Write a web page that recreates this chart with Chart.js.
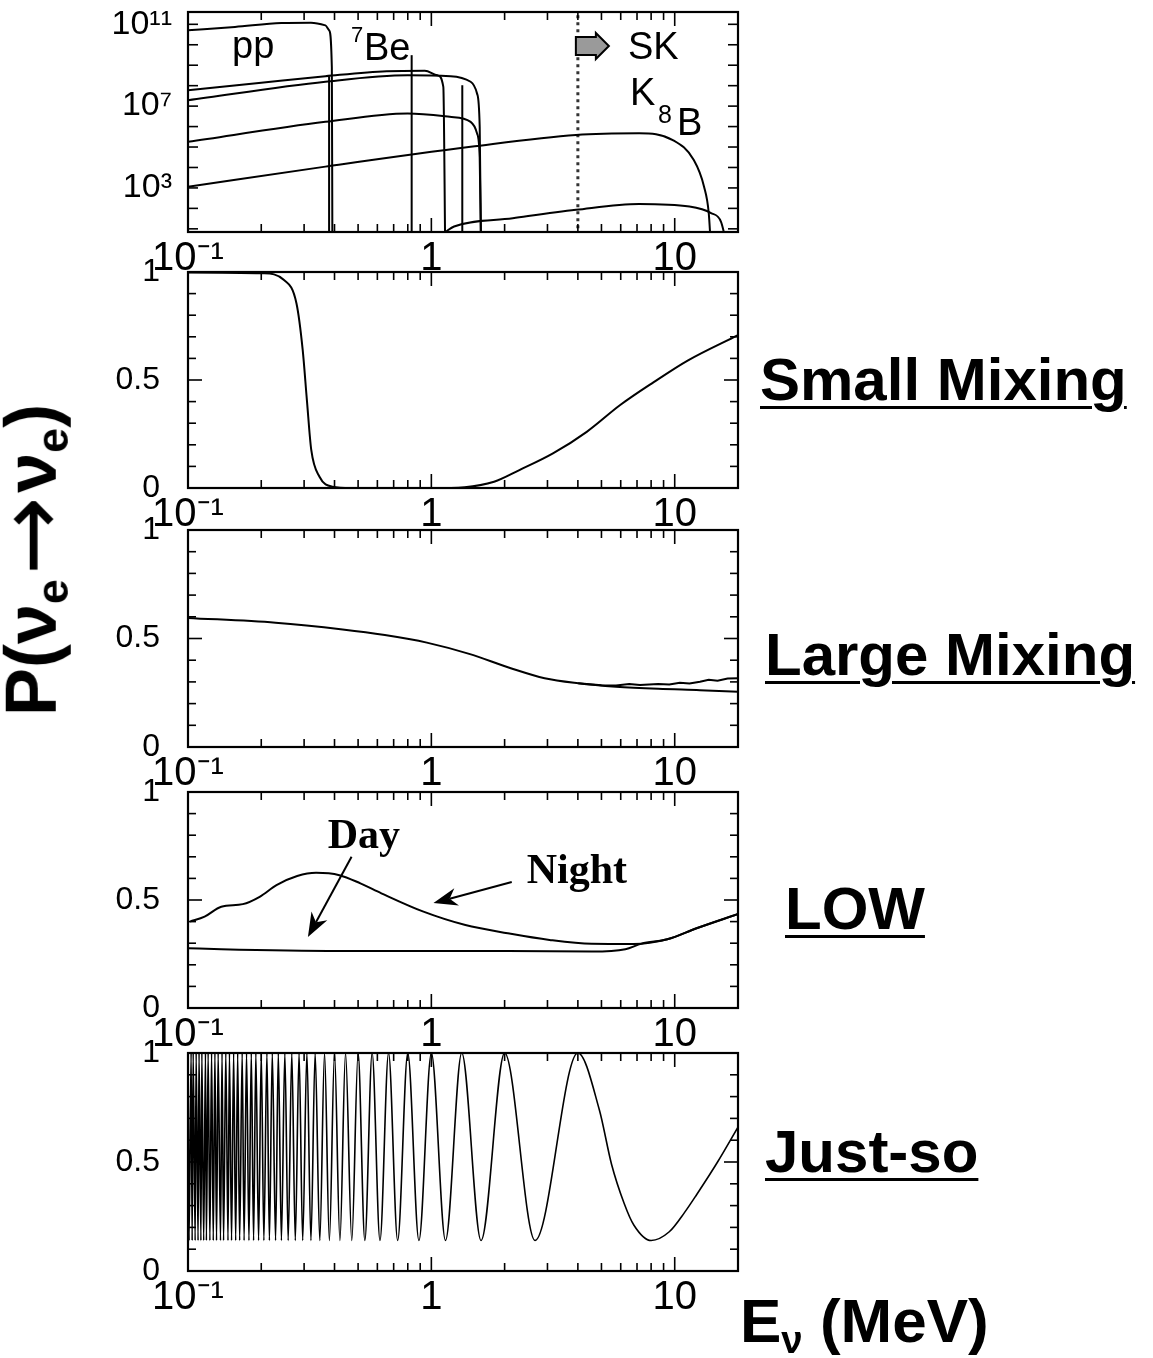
<!DOCTYPE html>
<html>
<head>
<meta charset="utf-8">
<script src="https://cdn.jsdelivr.net/npm/chart.js@4.4.1/dist/chart.umd.min.js"></script>
<style>
  html, body { margin: 0; padding: 0; background: #fff; }
  #page { position: relative; width: 1153px; height: 1358px; overflow: hidden; background: #fff;
          font-family: "Liberation Sans", Arial, sans-serif; color: #000; }
  canvas { position: absolute; }
  .tag { position: absolute; font-weight: bold; font-size: 60px; line-height: 60px; white-space: nowrap;
         text-decoration: underline; text-decoration-thickness: 3px; text-underline-offset: 6px; }
  .lbl { position: absolute; font-size: 38px; line-height: 38px; white-space: nowrap; }
  #ytitle { position: absolute; left: 42px; top: 560px; transform: translate(-50%, -50%) rotate(-90deg);
            font-weight: bold; font-size: 72px; line-height: 72px; white-space: nowrap; }
  #ytitle .arr { font-family: "DejaVu Sans", sans-serif; font-weight: normal; font-size: 1.3em; margin: 0 4px; vertical-align: -0.08em; }
  #ytitle sub, #xtitle sub { font-size: 0.62em; vertical-align: -0.28em; }
  #xtitle { position: absolute; left: 740px; top: 1290px; font-weight: bold; font-size: 62px; line-height: 62px; white-space: nowrap; }
</style>
</head>
<body>
<div id="page">
  <canvas id="flux" width="720" height="10"></canvas>
  <canvas id="sma" width="720" height="10"></canvas>
  <canvas id="lma" width="720" height="10"></canvas>
  <canvas id="low" width="720" height="10"></canvas>
  <canvas id="vac" width="720" height="10"></canvas>

  <div class="lbl" style="left:232px;top:26px">pp</div>
  <div class="lbl" style="left:351px;top:24px;font-size:22px;line-height:22px">7</div>
  <div class="lbl" style="left:364px;top:28px">Be</div>
  <div class="lbl" style="left:628px;top:27px">SK</div>
  <div class="lbl" style="left:630px;top:73px">K</div>
  <div class="lbl" style="left:658px;top:102px;font-size:25px;line-height:25px">8</div>
  <div class="lbl" style="left:677px;top:103px">B</div>

  <div class="tag" style="left:760px;top:350px">Small Mixing</div>
  <div class="tag" style="left:765px;top:625px">Large Mixing</div>
  <div class="tag" style="left:785px;top:879px">LOW</div>
  <div class="tag" style="left:765px;top:1122px">Just-so</div>

  <div id="ytitle">P(ν<sub>e</sub><span class="arr">→</span>ν<sub>e</sub>)</div>
  <div id="xtitle">E<sub>ν</sub> (MeV)</div>
</div>

<script>
// ---- axes ----
const xMin = 0.1, xMax = 18.2;
const xTickValues = [0.1, 1, 10];
const xTickLabels = ["10⁻¹", "1", "10"];

const fluxMin = 7, fluxMax = 4e11;
const fluxTickValues = [1e3, 1e7, 1e11];
const fluxTickLabels = ["10³", "10⁷", "10¹¹"];

const probTickValues = [0, 0.5, 1];
const probTickLabels = ["0", "0.5", "1"];

// ---- solar neutrino spectra (top panel) ----
const ppE = [0.1, 0.156, 0.242, 0.32, 0.367, 0.38, 0.39, 0.392];
const ppFlux = [5.1e10, 7.4e10, 1.15e11, 1.2e11, 8.9e10, 5.1e10, 7.9e8, 1];

const n13E = [0.1, 0.2, 0.367, 0.655, 0.94, 1.06, 1.12, 1.14];
const n13Flux = [6.0e7, 1.4e8, 2.9e8, 5.1e8, 5.4e8, 3.2e8, 8.7e7, 1];

const o15E = [0.1, 0.367, 0.8, 1.2, 1.45, 1.54, 1.58, 1.6];
const o15Flux = [1.95e7, 1.55e8, 3.2e8, 2.9e8, 1.55e8, 4.2e7, 9.8e5, 1];

const f17E = [0.1, 0.367, 0.8, 1.19, 1.45, 1.54, 1.58, 1.6];
const f17Flux = [1.8e5, 1.7e6, 4.4e6, 3.0e6, 1.7e6, 4.7e5, 3e4, 1];

const b8E = [0.1, 0.367, 1.45, 3.93, 7.14, 9.82, 11.98, 13.2, 13.8, 14.1];
const b8Flux = [1150, 1.1e4, 1.02e5, 3.9e5, 4.7e5, 2.2e5, 2.3e4, 1150, 59, 1];

const hepE = [1.14, 1.24, 2.16, 3.93, 7.14, 11.5, 14.1, 15.5, 16.5];
const hepFlux = [7, 13, 33, 85, 166, 123, 59, 22, 1];

// line sources: 7Be (two lines) and pep
const lineE = [0.38, 0.83, 1.34];
const lineFlux = [2.9e8, 3.1e9, 1.05e8];

const skThreshold = 4;

// ---- survival probabilities ----
const smaE = [0.1, 0.203, 0.248, 0.279, 0.296, 0.308, 0.321, 0.347, 0.392, 0.468, 1.0, 1.37, 1.81, 2.3, 3.16, 4.35, 5.97, 8.2, 11.3, 18.2];
const smaP = [0.998, 0.994, 0.963, 0.855, 0.639, 0.407, 0.176, 0.052, 0.006, 0.0, 0.0, 0.004, 0.029, 0.083, 0.16, 0.26, 0.384, 0.49, 0.59, 0.708];

const lmaE = [0.1, 0.229, 0.432, 0.644, 0.958, 1.43, 2.12, 2.92, 4.01, 5.74, 8.55, 12.7, 18.2];
const lmaP = [0.595, 0.573, 0.542, 0.516, 0.481, 0.429, 0.363, 0.317, 0.294, 0.278, 0.268, 0.262, 0.255];
const lmaNightE = [4.01, 5.0, 5.74, 6.5, 7.2, 8.55, 9.5, 10.5, 11.5, 12.7, 13.8, 15.0, 16.5, 18.2];
const lmaNightP = [0.294, 0.285, 0.283, 0.29, 0.286, 0.29, 0.288, 0.296, 0.293, 0.301, 0.31, 0.305, 0.316, 0.317];

const lowNightE = [0.102, 0.117, 0.137, 0.168, 0.197, 0.231, 0.281, 0.336, 0.419, 0.511, 0.623, 0.928, 1.38, 2.06, 3.06, 4.56, 6.78, 9.33, 12.3, 18.2];
const lowNightP = [0.40, 0.423, 0.469, 0.481, 0.515, 0.569, 0.611, 0.626, 0.615, 0.577, 0.531, 0.446, 0.384, 0.346, 0.315, 0.297, 0.296, 0.318, 0.369, 0.435];
const lowDayE = [0.1, 0.137, 0.419, 2.06, 4.56, 6.27, 7.3, 9.33, 12.3, 18.2];
const lowDayP = [0.277, 0.272, 0.264, 0.264, 0.261, 0.272, 0.298, 0.318, 0.369, 0.435];

const jsPeakE = [4, 2, 1.333, 1, 0.8, 0.667, 0.571, 0.5, 0.444, 0.4, 0.364, 0.333, 0.308, 0.286, 0.267, 0.25, 0.235, 0.222, 0.211, 0.2,
  0.19, 0.182, 0.174, 0.167, 0.16, 0.154, 0.148, 0.143, 0.138, 0.133, 0.129, 0.125, 0.121, 0.118, 0.114, 0.111, 0.108, 0.105, 0.103, 0.1];
const jsTroughE = [8, 2.667, 1.6, 1.143, 0.889, 0.727, 0.615, 0.533, 0.471, 0.421, 0.381, 0.348, 0.32, 0.296, 0.276, 0.258, 0.242, 0.229, 0.216, 0.205,
  0.195, 0.186, 0.178, 0.17, 0.163, 0.157, 0.151, 0.146, 0.14, 0.136, 0.131, 0.127, 0.123, 0.119, 0.116, 0.113, 0.11, 0.107, 0.104, 0.101];
const jsPeakP = 1.0;
const jsTroughP = 0.14;
// extra readings on the last, widest swing
const jsSlopeE = [4.9, 5.5, 6.2, 6.8, 9.5, 11.0, 12.3, 15.0, 18.2];
const jsSlopeP = [0.74, 0.49, 0.31, 0.21, 0.18, 0.27, 0.35, 0.5, 0.66];

// ---- helpers ----
const pts = (xs, ys) => xs.map((x, i) => ({ x: x, y: ys[i] }));

function curve(data, extra) {
  return Object.assign({
    data: data, borderColor: "#000", borderWidth: 2, pointRadius: 0,
    fill: false, cubicInterpolationMode: "monotone"
  }, extra || {});
}

function drawArrow(ctx, x1, y1, x2, y2) {
  const a = Math.atan2(y2 - y1, x2 - x1);
  const head = 24, wid = 9;
  const c = Math.cos(a), s = Math.sin(a);
  ctx.beginPath();
  ctx.moveTo(x1, y1);
  ctx.lineTo(x2 - head * 0.7 * c, y2 - head * 0.7 * s);
  ctx.stroke();
  ctx.beginPath();
  ctx.moveTo(x2, y2);
  ctx.lineTo(x2 - head * c + wid * s, y2 - head * s - wid * c);
  ctx.lineTo(x2 - head * 0.7 * c, y2 - head * 0.7 * s);
  ctx.lineTo(x2 - head * c - wid * s, y2 - head * s + wid * c);
  ctx.closePath();
  ctx.fill();
}

// frame with inward ticks on all four sides
const framePlugin = {
  id: "frame",
  afterDatasetsDraw(chart, args, opts) {
    const { ctx, chartArea: a } = chart;
    const x = chart.scales.x, y = chart.scales.y;
    ctx.save();
    ctx.strokeStyle = "#000";
    ctx.lineWidth = 1.6;
    const seg = (x1, y1, x2, y2) => { ctx.beginPath(); ctx.moveTo(x1, y1); ctx.lineTo(x2, y2); ctx.stroke(); };
    for (const d of [-1, 0, 1]) {
      for (let k = 1; k <= 9; k++) {
        const v = k * Math.pow(10, d);
        if (v < xMin || v > xMax) continue;
        const px = x.getPixelForValue(v);
        const len = k === 1 ? 14 : 8;
        seg(px, a.bottom, px, a.bottom - len);
        seg(px, a.top, px, a.top + len);
      }
    }
    (opts.yTicks || []).forEach((v, i) => {
      const py = y.getPixelForValue(v);
      const len = opts.yLens[i];
      seg(a.left, py, a.left + len, py);
      seg(a.right, py, a.right - len, py);
    });
    ctx.lineWidth = 2.2;
    ctx.strokeRect(a.left, a.top, a.right - a.left, a.bottom - a.top);
    ctx.restore();
  }
};

// annotations: arrows, serif labels, SK threshold box
const notesPlugin = {
  id: "notes",
  afterDatasetsDraw(chart, args, opts) {
    const { ctx, chartArea: a } = chart;
    const x = chart.scales.x, y = chart.scales.y;
    ctx.save();
    ctx.fillStyle = "#000";
    ctx.strokeStyle = "#000";
    ctx.lineWidth = 2;
    (opts.texts || []).forEach(t => {
      ctx.font = "bold 42px 'Liberation Serif', 'Times New Roman', serif";
      ctx.textAlign = "center";
      ctx.textBaseline = "alphabetic";
      ctx.fillText(t.text, x.getPixelForValue(t.e), y.getPixelForValue(t.p));
    });
    (opts.arrows || []).forEach(r => {
      drawArrow(ctx, x.getPixelForValue(r.from[0]), y.getPixelForValue(r.from[1]),
        x.getPixelForValue(r.to[0]), y.getPixelForValue(r.to[1]));
    });
    if (opts.skBox) {
      const px = x.getPixelForValue(opts.skBox);
      const top = a.top + 21, h = 26, bx = px - 2;
      ctx.beginPath();
      ctx.moveTo(bx, top + 4);
      ctx.lineTo(bx + 20, top + 4);
      ctx.lineTo(bx + 20, top);
      ctx.lineTo(bx + 33, top + h / 2);
      ctx.lineTo(bx + 20, top + h);
      ctx.lineTo(bx + 20, top + h - 4);
      ctx.lineTo(bx, top + h - 4);
      ctx.closePath();
      ctx.fillStyle = "#9a9a9a";
      ctx.fill();
      ctx.stroke();
    }
    ctx.restore();
  }
};

Chart.register(framePlugin, notesPlugin);
Chart.defaults.font.family = "'Liberation Sans', Arial, sans-serif";
Chart.defaults.color = "#000";

const plotLeft = 188, canvasLeft = 40, canvasWidth = 720, padRight = 22, xAxisHeight = 46;

function makePanel(id, top, bottom, padTop, yScale, datasets, plugins) {
  const canvas = document.getElementById(id);
  canvas.width = canvasWidth;
  canvas.height = padTop + (bottom - top) + xAxisHeight;
  canvas.style.left = canvasLeft + "px";
  canvas.style.top = (top - padTop) + "px";
  return new Chart(canvas, {
    type: "line",
    data: { datasets: datasets },
    options: {
      responsive: false,
      animation: false,
      events: [],
      layout: { padding: { top: padTop, right: padRight, left: 0, bottom: 0 } },
      plugins: Object.assign({ legend: { display: false }, tooltip: { enabled: false } }, plugins),
      scales: {
        x: {
          type: "logarithmic", min: xMin, max: xMax,
          grid: { display: false, drawTicks: false }, border: { display: false },
          afterBuildTicks: s => { s.ticks = xTickValues.map(v => ({ value: v })); },
          afterFit: s => { s.height = xAxisHeight; s.paddingLeft = 0; s.paddingRight = 0; },
          ticks: {
            autoSkip: false, maxRotation: 0, padding: 3,
            font: { size: 40 },
            callback: (v, i) => xTickLabels[i]
          }
        },
        y: Object.assign({
          grid: { display: false, drawTicks: false }, border: { display: false },
          afterFit: s => { s.width = plotLeft - canvasLeft; s.paddingTop = 0; s.paddingBottom = 0; }
        }, yScale)
      }
    }
  });
}

const probAxis = {
  type: "linear", min: 0, max: 1,
  afterBuildTicks: s => { s.ticks = probTickValues.map(v => ({ value: v })); },
  ticks: { autoSkip: false, padding: 28, font: { size: 32 }, callback: (v, i) => probTickLabels[i] }
};
const probMinor = [0.1, 0.2, 0.3, 0.4, 0.5, 0.6, 0.7, 0.8, 0.9];
const probFrame = { frame: { yTicks: probMinor, yLens: probMinor.map(v => (v === 0.5 ? 14 : 8)) } };

// top panel: neutrino fluxes
const fluxDecades = [1e1, 1e2, 1e3, 1e4, 1e5, 1e6, 1e7, 1e8, 1e9, 1e10, 1e11];
makePanel("flux", 12, 232, 10, {
  type: "logarithmic", min: fluxMin, max: fluxMax,
  afterBuildTicks: s => { s.ticks = fluxTickValues.map(v => ({ value: v })); },
  ticks: { autoSkip: false, padding: 16, font: { size: 34 }, callback: (v, i) => fluxTickLabels[i] }
}, [
  curve(pts(ppE, ppFlux)),
  curve(pts(n13E, n13Flux)),
  curve(pts(o15E, o15Flux)),
  curve(pts(f17E, f17Flux)),
  curve(pts(b8E, b8Flux)),
  curve(pts(hepE, hepFlux)),
  ...lineE.map((e, i) => curve([{ x: e, y: 1 }, { x: e, y: lineFlux[i] }], { cubicInterpolationMode: "default" })),
  curve([{ x: skThreshold, y: 1 }, { x: skThreshold, y: 1e13 }], { borderDash: [3, 4], borderWidth: 3, borderColor: "#333", cubicInterpolationMode: "default" })
], {
  frame: { yTicks: fluxDecades, yLens: fluxDecades.map(() => 10) },
  notes: { skBox: skThreshold }
});

makePanel("sma", 272, 488, 18, probAxis, [curve(pts(smaE, smaP))], probFrame);

makePanel("lma", 530, 747, 18, probAxis, [
  curve(pts(lmaE, lmaP)),
  curve(pts(lmaNightE, lmaNightP), { cubicInterpolationMode: "default", tension: 0 })
], probFrame);

makePanel("low", 792, 1008, 18, probAxis, [
  curve(pts(lowNightE, lowNightP)),
  curve(pts(lowDayE, lowDayP))
], Object.assign({
  notes: {
    texts: [{ text: "Day", e: 0.528, p: 0.74 }, { text: "Night", e: 3.96, p: 0.579 }],
    arrows: [{ from: [0.47, 0.70], to: [0.311, 0.329] }, { from: [2.14, 0.583], to: [1.02, 0.486] }]
  }
}, probFrame));

const jsPoints = pts(jsPeakE, jsPeakE.map(() => jsPeakP))
  .concat(pts(jsTroughE, jsTroughE.map(() => jsTroughP)))
  .concat(pts(jsSlopeE, jsSlopeP))
  .sort((a, b) => a.x - b.x);
makePanel("vac", 1053, 1271, 18, probAxis, [curve(jsPoints, { borderWidth: 1.6 })], probFrame);
</script>
</body>
</html>
